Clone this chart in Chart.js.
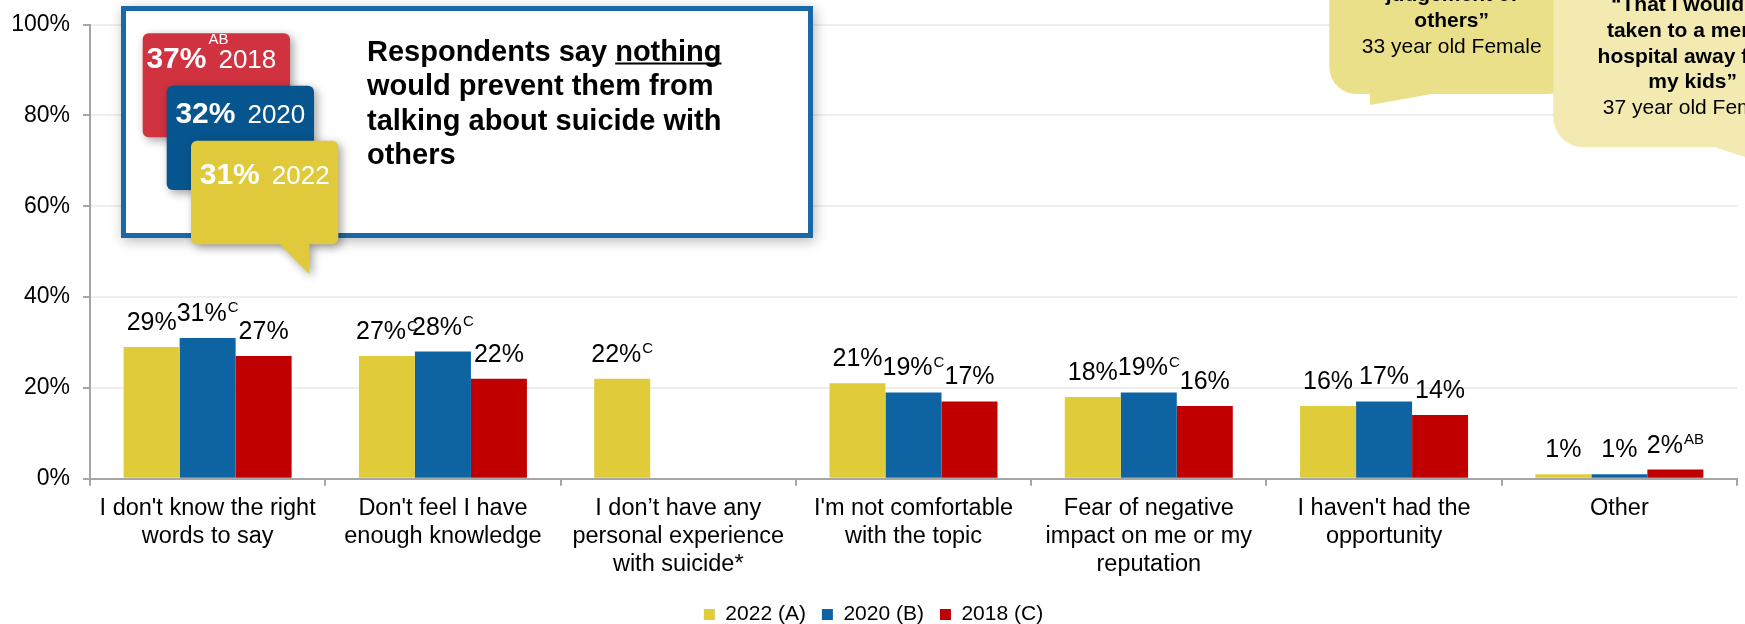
<!DOCTYPE html>
<html>
<head>
<meta charset="utf-8">
<script src="https://cdn.jsdelivr.net/npm/chart.js@4.4.0/dist/chart.umd.min.js"></script>
<style>
html, body { margin: 0; padding: 0; background: #fff; }
canvas { display: block; }
</style>
</head>
<body>
<canvas id="barsChart" width="1745" height="624"></canvas>
<script>
const FONT = "'Liberation Sans', Arial, sans-serif";

// chart data
const categories = [
  ["I don't know the right", "words to say"],
  ["Don't feel I have", "enough knowledge"],
  ["I don\u2019t have any", "personal experience", "with suicide*"],
  ["I'm not comfortable", "with the topic"],
  ["Fear of negative", "impact on me or my", "reputation"],
  ["I haven't had the", "opportunity"],
  ["Other"]
];
const seriesNames = ['2022 (A)', '2020 (B)', '2018 (C)'];
const values2022 = [29, 27, 22, 21, 18, 16, 1];
const values2020 = [31, 28, null, 19, 19, 17, 1];
const values2018 = [27, 22, null, 17, 16, 14, 2];
const sig2022 = ['', 'C', 'C', '', '', '', ''];
const sig2020 = ['C', 'C', '', 'C', 'C', '', ''];
const sig2018 = ['', '', '', '', '', '', 'AB'];
const yTicks = [0, 20, 40, 60, 80, 100];

// callout texts
const nothingYears = ['2018', '2020', '2022'];
const nothingValues = [37, 32, 31];
const nothingSig = ['AB', '', ''];
const boxLines = ['would prevent them from', 'talking about suicide with', 'others'];
const quote1 = ['judgement of', 'others\u201d'];
const quote1Who = '33 year old Female';
const quote2 = ['\u201cThat I would be', 'taken to a mental', 'hospital away from', 'my kids\u201d'];
const quote2Who = '37 year old Female';

const colors = ['#e0cb3a', '#0e64a2', '#c00000'];

function bubblePath(ctx, x, y, w, h, r, tail) {
  ctx.beginPath();
  ctx.moveTo(x + r, y);
  ctx.lineTo(x + w - r, y);
  ctx.arcTo(x + w, y, x + w, y + r, r);
  ctx.lineTo(x + w, y + h - r);
  ctx.arcTo(x + w, y + h, x + w - r, y + h, r);
  if (tail) tail.forEach(p => ctx.lineTo(p[0], p[1]));
  ctx.lineTo(x + r, y + h);
  ctx.arcTo(x, y + h, x, y + h - r, r);
  ctx.lineTo(x, y + r);
  ctx.arcTo(x, y, x + r, y, r);
  ctx.closePath();
}

// value labels over the bars, with the significance letters as superscript
const valueLabels = {
  id: 'valueLabels',
  afterDatasetsDraw(chart) {
    const ctx = chart.ctx;
    ctx.save();
    ctx.fillStyle = '#000';
    ctx.textAlign = 'left';
    ctx.textBaseline = 'alphabetic';
    chart.data.datasets.forEach((ds, i) => {
      chart.getDatasetMeta(i).data.forEach((bar, j) => {
        const v = ds.data[j];
        if (v == null) return;
        const main = v + '%';
        const sup = ds.sig[j];
        ctx.font = '25px ' + FONT;
        const mw = ctx.measureText(main).width;
        ctx.font = '15px ' + FONT;
        const sw = sup ? ctx.measureText(sup).width + 1 : 0;
        const x0 = bar.x - (mw + sw) / 2;
        const base = bar.y - 17;
        ctx.font = '25px ' + FONT;
        ctx.fillText(main, x0, base);
        if (sup) {
          ctx.font = '15px ' + FONT;
          ctx.fillText(sup, x0 + mw + 1, base - 8.5);
        }
      });
    });
    ctx.restore();
  }
};

// the callout box and the quote bubbles
const callouts = {
  id: 'callouts',
  afterDraw(chart) {
    const ctx = chart.ctx;
    ctx.save();

    // main box
    ctx.shadowColor = 'rgba(0,0,0,0.28)';
    ctx.shadowBlur = 12;
    ctx.shadowOffsetX = 2;
    ctx.shadowOffsetY = 3;
    ctx.fillStyle = '#fff';
    ctx.fillRect(121, 6, 692, 232);
    ctx.shadowColor = 'transparent';
    ctx.strokeStyle = '#1a68a8';
    ctx.lineWidth = 5;
    ctx.strokeRect(123.5, 8.5, 687, 227);

    // stacked year bubbles
    const bub = [
      { x: 142.7, y: 33.3, w: 147.3, h: 104, base: 68, fill: '#d03240', shift: -5 },
      { x: 166.7, y: 85.7, w: 147.3, h: 104.3, base: 122.7, fill: '#07558e', shift: 0 },
      { x: 191, y: 140.7, w: 147.3, h: 103.6, base: 184, fill: '#e0ca3b', shift: 0,
        tail: [[309.3, 244.3], [309.3, 274], [280, 244.3]] }
    ];
    bub.forEach((b, i) => {
      ctx.shadowColor = 'rgba(0,0,0,0.38)';
      ctx.shadowBlur = 10;
      ctx.shadowOffsetX = 3;
      ctx.shadowOffsetY = 3;
      ctx.fillStyle = b.fill;
      bubblePath(ctx, b.x, b.y, b.w, b.h, 6, b.tail);
      ctx.fill();
      ctx.shadowColor = 'transparent';

      const pct = nothingValues[i] + '%';
      const yr = nothingYears[i];
      ctx.font = 'bold 30px ' + FONT;
      const pw = ctx.measureText(pct).width;
      ctx.font = '26px ' + FONT;
      const yw = ctx.measureText(yr).width;
      const gap = 12;
      const x0 = b.x + b.w / 2 - (pw + gap + yw) / 2 + b.shift;
      ctx.fillStyle = '#fff';
      ctx.textAlign = 'left';
      ctx.textBaseline = 'alphabetic';
      ctx.font = 'bold 30px ' + FONT;
      ctx.fillText(pct, x0, b.base);
      ctx.font = '26px ' + FONT;
      ctx.fillText(yr, x0 + pw + gap, b.base);
      if (nothingSig[i]) {
        ctx.font = '15px ' + FONT;
        ctx.fillText(nothingSig[i], x0 + pw + 2, b.base - 24);
      }
    });

    // box text
    ctx.fillStyle = '#000';
    ctx.font = 'bold 29px ' + FONT;
    ctx.textAlign = 'left';
    const first = 'Respondents say ';
    ctx.fillText(first, 367, 60.7);
    const fw = ctx.measureText(first).width;
    ctx.fillText('nothing', 367 + fw, 60.7);
    const nw = ctx.measureText('nothing').width;
    ctx.fillRect(367 + fw, 62.5, nw, 2);
    boxLines.forEach((l, k) => ctx.fillText(l, 367, 95 + k * 34.5));

    // quote bubbles at top right
    ctx.fillStyle = '#ebe08a';
    bubblePath(ctx, 1329.3, -80, 246, 174, 27, [[1431.7, 94], [1370, 105], [1370, 94]]);
    ctx.fill();
    ctx.fillStyle = '#000';
    ctx.textAlign = 'center';
    ctx.font = 'bold 21px ' + FONT;
    quote1.forEach((l, k) => ctx.fillText(l, 1451.7, 1 + k * 26));
    ctx.font = '21px ' + FONT;
    ctx.fillText(quote1Who, 1451.7, 53.3);

    ctx.fillStyle = '#f2eab1';
    bubblePath(ctx, 1553.3, -80, 287, 227.3, 30, [[1800, 175], [1715, 147.3]]);
    ctx.fill();
    ctx.fillStyle = '#000';
    ctx.font = 'bold 21px ' + FONT;
    quote2.forEach((l, k) => ctx.fillText(l, 1692.7, 11 + k * 25.8));
    ctx.font = '21px ' + FONT;
    ctx.fillText(quote2Who, 1692.7, 114.3);

    ctx.restore();
  }
};

const ctx = document.getElementById('barsChart').getContext('2d');
const barsChart = new Chart(ctx, {
  type: 'bar',
  data: {
    labels: categories,
    datasets: [
      { label: seriesNames[0], data: values2022, sig: sig2022, backgroundColor: colors[0] },
      { label: seriesNames[1], data: values2020, sig: sig2020, backgroundColor: colors[1] },
      { label: seriesNames[2], data: values2018, sig: sig2018, backgroundColor: colors[2] }
    ]
  },
  options: {
    responsive: false,
    animation: false,
    datasets: { bar: { categoryPercentage: 0.714, barPercentage: 1 } },
    layout: { padding: { left: 10, right: 8, top: 24.5, bottom: -11 } },
    scales: {
      x: {
        afterFit: s => { s.height += 1.2; },
        grid: { offset: true, drawOnChartArea: false, color: '#a6a6a6', lineWidth: 2, tickLength: 7 },
        border: { color: '#a6a6a6', width: 2 },
        ticks: { font: { family: FONT, size: 23.5, lineHeight: 1.19 }, color: '#000', padding: 8.6, maxRotation: 0, autoSkip: false }
      },
      y: {
        min: 0,
        max: 100,
        afterFit: s => { s.width = 80; s.paddingTop = 0; },
        afterBuildTicks: axis => { axis.ticks = yTicks.map(v => ({ value: v })); },
        grid: { color: '#eeeeee', lineWidth: 2, tickColor: '#a6a6a6', tickLength: 7 },
        border: { color: '#a6a6a6', width: 2 },
        ticks: { font: { family: FONT, size: 23 }, color: '#000', padding: 13, callback: v => v + '%' }
      }
    },
    plugins: {
      legend: {
        position: 'bottom',
        labels: { boxWidth: 11, boxHeight: 11, font: { family: FONT, size: 21 }, color: '#000', padding: 16 }
      },
      tooltip: { enabled: false }
    }
  },
  plugins: [valueLabels, callouts]
});
</script>
</body>
</html>
